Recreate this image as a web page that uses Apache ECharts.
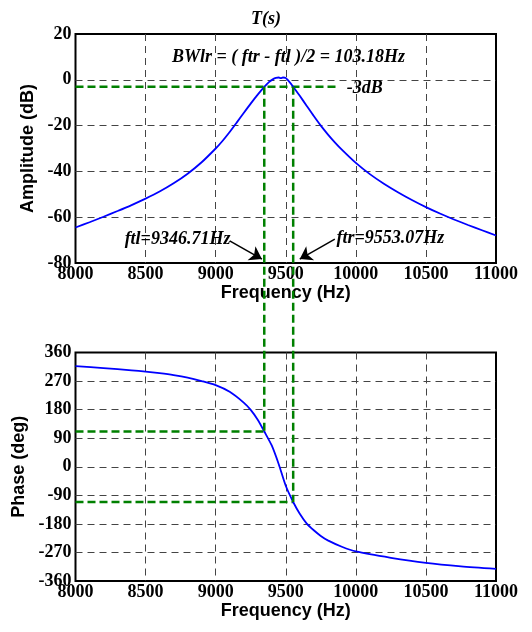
<!DOCTYPE html>
<html><head><meta charset="utf-8">
<script src="https://cdn.jsdelivr.net/npm/echarts@6/dist/echarts.min.js"></script>
<style>html,body{margin:0;padding:0;background:#fff}#c{width:532px;height:632px}</style>
</head><body><div id="c"></div>
<script>
// ---- data ----
const freqAmp = [8000, 8100, 8200, 8300, 8400, 8500, 8600, 8700, 8800, 8900, 9000, 9050, 9100, 9150, 9200, 9250, 9300, 9350, 9380, 9410, 9430, 9450, 9465, 9480, 9500, 9520, 9553, 9600, 9650, 9700, 9750, 9800, 9850, 9900, 10000, 10100, 10200, 10300, 10400, 10500, 10600, 10700, 10800, 10900, 11000];
const ampDb = [-64.5, -62.2, -59.8, -57.3, -54.7, -51.9, -48.8, -45.2, -41.0, -36.0, -30.0, -26.6, -22.8, -18.7, -14.5, -10.4, -6.5, -2.9, -1.0, 0.3, 0.8, 1.0, 0.7, 1.0, 0.8, -0.5, -3.0, -7.0, -11.4, -15.8, -20.0, -23.8, -27.3, -30.5, -36.3, -41.2, -45.4, -49.1, -52.5, -55.6, -58.4, -61.0, -63.4, -65.7, -68.0];
const freqPhase = [8000, 8200, 8400, 8500, 8600, 8700, 8800, 8900, 9000, 9100, 9200, 9250, 9300, 9347, 9400, 9450, 9500, 9553, 9600, 9650, 9700, 9750, 9800, 9900, 10000, 10250, 10500, 10750, 11000];
const phaseDeg = [317, 311, 304, 300, 295, 289, 281, 270, 257, 236, 202, 179, 148, 111, 67, 8, -60, -111, -148, -179, -200, -218, -232, -252, -267, -287, -303, -314, -322];
const ftl = 9346.71;
const ftr = 9553.07;
const levelDb = -3;
const levelEndFreq = 9870;
const phaseAtFtl = 111;
const phaseAtFtr = -111;
const xMin = 8000, xMax = 11000, xStep = 500;
const ampMin = -80, ampMax = 20, ampStep = 20;
const phMin = -360, phMax = 360, phStep = 90;
const titleText = 'T(s)';
const bwText = 'BWlr = ( ftr - ftl )/2 = 103.18Hz';
const levelText = '-3dB';
const ftlText = 'ftl=9346.71Hz';
const ftrText = 'ftr=9553.07Hz';
// annotation anchors (data coords)
const bwAnchor = [9520, 10];
const levelAnchor = [9935, -3.8];
const ftlAnchor = [9105, -69.6];
const ftrAnchor = [9862, -69.2];
const arrowL = [[9100, -70.3], [9330, -78.3]];
const arrowR = [[9850, -69.6], [9600, -78.3]];

const serif = '"Liberation Serif", "Times New Roman", serif';
const sans = '"Liberation Sans", Arial, sans-serif';
const GREEN = '#008000';
const zip = (a, b) => a.map((v, i) => [v, b[i]]);

const gridLine = {show: true, showMinLine: false, showMaxLine: false, lineStyle: {color: '#444', width: 1, type: [7, 5]}};
const xAxisCfg = gi => ({
  type: 'value', gridIndex: gi, min: xMin, max: xMax, interval: xStep,
  name: 'Frequency (Hz)', nameLocation: 'middle', nameGap: 16,
  nameTextStyle: {fontFamily: sans, fontWeight: 'bold', fontSize: 18, color: '#000'},
  axisLine: {show: false}, axisTick: {show: false},
  axisLabel: {fontFamily: serif, fontWeight: 'bold', fontSize: 18, color: '#000', margin: 2, formatter: v => String(v)},
  splitLine: gridLine
});
const yAxisCfg = (gi, name, mn, mx, st) => ({
  type: 'value', gridIndex: gi, min: mn, max: mx, interval: st,
  name: name, nameLocation: 'middle', nameGap: 37, nameRotate: 90,
  nameTextStyle: {fontFamily: sans, fontWeight: 'bold', fontSize: 18, color: '#000'},
  axisLine: {show: false}, axisTick: {show: false},
  axisLabel: {fontFamily: serif, fontWeight: 'bold', fontSize: 18, color: '#000', margin: 4, formatter: v => String(v)},
  splitLine: gridLine
});
const greenDash = {color: GREEN, width: 2.5, type: [8, 4]};

const chart = echarts.init(document.getElementById('c'));
chart.setOption({
  animation: false,
  backgroundColor: '#fff',
  title: {text: titleText, left: 'center', top: 5, textStyle: {fontFamily: serif, fontStyle: 'italic', fontWeight: 'bold', fontSize: 18, color: '#000'}},
  grid: [
    {left: 75.5, top: 34, width: 420.5, height: 229, show: true, borderColor: '#000', borderWidth: 2, containLabel: false, outerBoundsMode: 'none'},
    {left: 75.5, top: 352.5, width: 420.5, height: 228.5, show: true, borderColor: '#000', borderWidth: 2, containLabel: false, outerBoundsMode: 'none'}
  ],
  xAxis: [xAxisCfg(0), xAxisCfg(1)],
  yAxis: [yAxisCfg(0, 'Amplitude (dB)', ampMin, ampMax, ampStep), yAxisCfg(1, 'Phase (deg)', phMin, phMax, phStep)],
  series: [
    {type: 'line', xAxisIndex: 0, yAxisIndex: 0, data: [[xMin, levelDb], [levelEndFreq, levelDb]], symbol: 'none', lineStyle: greenDash, z: 3},
    {type: 'line', xAxisIndex: 1, yAxisIndex: 1, data: [[xMin, phaseAtFtl], [ftl, phaseAtFtl]], symbol: 'none', lineStyle: greenDash, z: 3},
    {type: 'line', xAxisIndex: 1, yAxisIndex: 1, data: [[xMin, phaseAtFtr], [ftr, phaseAtFtr]], symbol: 'none', lineStyle: greenDash, z: 3},
    {type: 'line', xAxisIndex: 0, yAxisIndex: 0, data: zip(freqAmp, ampDb), symbol: 'none', smooth: 0.25, lineStyle: {color: '#0000ff', width: 1.8}, z: 4,
      markLine: {silent: true, symbol: ['none', 'arrow'], symbolSize: 12, label: {show: false},
        lineStyle: {color: '#000', width: 1.5, type: 'solid'},
        data: [
          [{coord: arrowL[0]}, {coord: arrowL[1]}],
          [{coord: arrowR[0]}, {coord: arrowR[1]}]
        ]}},
    {type: 'line', xAxisIndex: 1, yAxisIndex: 1, data: zip(freqPhase, phaseDeg), symbol: 'none', smooth: 0.25, lineStyle: {color: '#0000ff', width: 1.8}, z: 4}
  ]
});

const px = (gi, pt) => chart.convertToPixel({gridIndex: gi}, pt);
const annFont = 'italic bold 18px ' + serif;
const vL = [px(0, [ftl, levelDb]), px(1, [ftl, phaseAtFtl])];
const vR = [px(0, [ftr, levelDb]), px(1, [ftr, phaseAtFtr])];
const bw = px(0, bwAnchor), lv = px(0, levelAnchor), tl = px(0, ftlAnchor), tr = px(0, ftrAnchor);
chart.setOption({
  graphic: [
    {type: 'polyline', z: 50, shape: {points: vL}, style: {stroke: GREEN, lineWidth: 2.5, lineDash: [8, 4], fill: null}},
    {type: 'polyline', z: 50, shape: {points: vR}, style: {stroke: GREEN, lineWidth: 2.5, lineDash: [8, 4], fill: null}},
    {type: 'text', z: 60, x: bw[0], y: bw[1], style: {text: bwText, font: annFont, fill: '#000', align: 'center', verticalAlign: 'middle'}},
    {type: 'text', z: 60, x: lv[0], y: lv[1], style: {text: levelText, font: annFont, fill: '#000', align: 'left', verticalAlign: 'middle'}},
    {type: 'text', z: 60, x: tl[0], y: tl[1], style: {text: ftlText, font: annFont, fill: '#000', align: 'right', verticalAlign: 'middle'}},
    {type: 'text', z: 60, x: tr[0], y: tr[1], style: {text: ftrText, font: annFont, fill: '#000', align: 'left', verticalAlign: 'middle'}}
  ]
});
</script></body></html>
